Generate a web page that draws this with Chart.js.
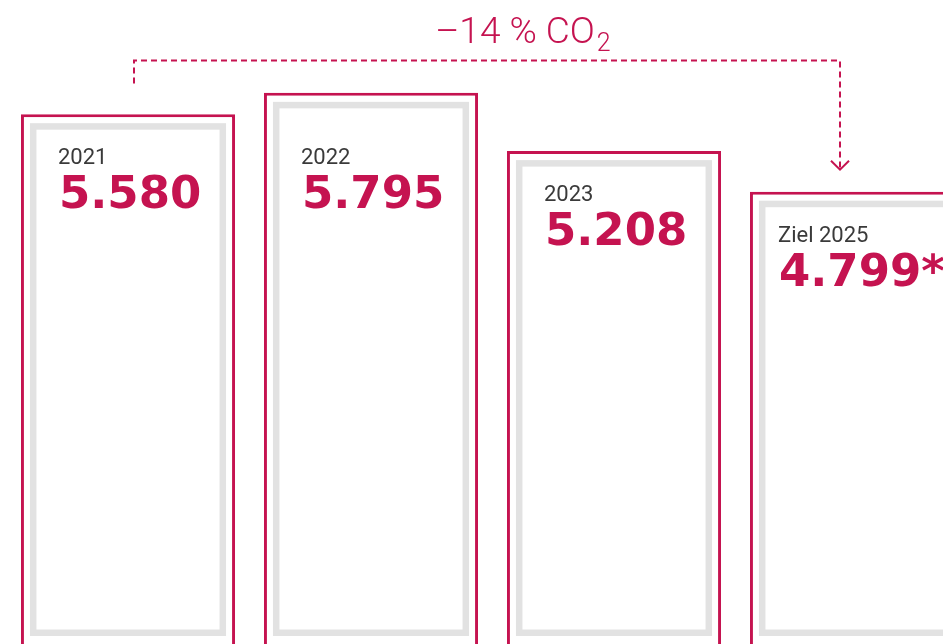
<!DOCTYPE html>
<html>
<head>
<meta charset="utf-8">
<script src="https://cdn.jsdelivr.net/npm/chart.js@4.4.1/dist/chart.umd.min.js"></script>
<style>
  html, body { margin: 0; padding: 0; background: #fff; overflow: hidden; width: 943px; height: 644px; }
  #wrap { width: 990px; height: 680px; }
</style>
</head>
<body>
<div id="wrap"><canvas id="co2Chart" width="990" height="680"></canvas></div>
<script>
// CO2 emissions (t) per year
const years = ['2021', '2022', '2023', 'Ziel 2025'];
const emissions = [5580, 5795, 5208, 4799];
const notes = ['', '', '', '*'];
const changeLabel = '–14 % CO';
const changeSub = '2';

const crimson = '#c51350';
const frameGrey = '#e2e2e2';

function fmt(v) {
    const s = String(v);
    return s.slice(0, -3) + '.' + s.slice(-3);
}

const framePlugin = {
    id: 'frames',
    afterDatasetsDraw(chart) {
        const ctx = chart.ctx;
        const bars = chart.getDatasetMeta(0).data;
        const area = chart.chartArea;
        ctx.save();

        // grey inner frames
        bars.forEach(b => {
            const left = b.x - b.width / 2;
            const right = b.x + b.width / 2;
            ctx.strokeStyle = frameGrey;
            ctx.lineWidth = 6.5;
            ctx.strokeRect(left + 12.25, b.y + 12.25, right - left - 24.5, area.bottom - 35.25 - (b.y + 12.25));
        });

        // labels, never placed above the first bar's labels
        bars.forEach((b, i) => {
            const left = b.x - b.width / 2;
            const inset = i === 3 ? 28 : 37;
            const ty = Math.max(b.y, bars[0].y) + 50;
            ctx.textAlign = 'left';
            ctx.textBaseline = 'alphabetic';
            ctx.fillStyle = '#3a3a3a';
            ctx.font = '400 22px Roboto';
            ctx.fillText(years[i], left + inset, ty);
            ctx.fillStyle = crimson;
            ctx.font = 'bold 45px "DejaVu Sans"';
            ctx.fillText(fmt(emissions[i]) + notes[i], left + inset + 1, ty + 44);
        });

        // dashed connector from first to last bar
        const x1 = bars[0].x + 6;
        const x4 = bars[3].x - 17;
        const lineY = area.top - 12;
        const tipY = bars[3].y - 22;
        ctx.strokeStyle = crimson;
        ctx.lineWidth = 2;
        ctx.setLineDash([6, 4]);
        ctx.beginPath();
        ctx.moveTo(x1, lineY + 23);
        ctx.lineTo(x1, lineY);
        ctx.lineTo(x4, lineY);
        ctx.lineTo(x4, tipY - 2);
        ctx.stroke();
        ctx.setLineDash([]);
        ctx.beginPath();
        ctx.moveTo(x4 - 9, tipY - 9);
        ctx.lineTo(x4, tipY);
        ctx.lineTo(x4 + 9, tipY - 9);
        ctx.stroke();

        // change label
        ctx.fillStyle = crimson;
        ctx.font = '300 37px Roboto';
        const w1 = ctx.measureText(changeLabel).width;
        ctx.font = '300 25px Roboto';
        const w2 = ctx.measureText(changeSub).width;
        const start = (x1 + x4) / 2 + 36 - (w1 + w2 + 2) / 2;
        ctx.font = '300 37px Roboto';
        ctx.fillText(changeLabel, start, lineY - 18);
        ctx.font = '300 25px Roboto';
        ctx.fillText(changeSub, start + w1 + 2, lineY - 10);
        ctx.restore();
    }
};

new Chart(document.getElementById('co2Chart').getContext('2d'), {
    type: 'bar',
    data: {
        labels: years,
        datasets: [{
            data: emissions,
            backgroundColor: '#ffffff',
            borderColor: crimson,
            borderWidth: 3,
            borderSkipped: 'bottom',
            barPercentage: 0.881,
            categoryPercentage: 1
        }]
    },
    options: {
        responsive: false,
        animation: false,
        layout: { padding: { left: 6.5, right: 11.5, top: 72.5, bottom: 12 } },
        plugins: { legend: { display: false }, tooltip: { enabled: false } },
        scales: {
            x: { display: false },
            y: { display: false, min: 0, max: 6000 }
        }
    },
    plugins: [framePlugin]
});
</script>
</body>
</html>
